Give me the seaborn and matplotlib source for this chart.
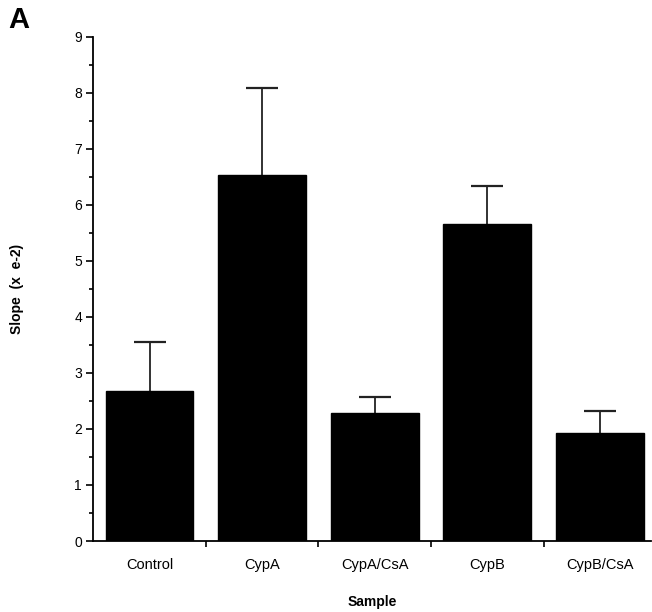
import numpy as np
import pandas as pd
import matplotlib
matplotlib.use("Agg")
import matplotlib.pyplot as plt
import seaborn as sns
from matplotlib.ticker import MultipleLocator

# Data
samples = ["Control", "CypA", "CypA/CsA", "CypB", "CypB/CsA"]
slope = [2.68, 6.54, 2.29, 5.66, 1.93]
err_up = [0.87, 1.55, 0.28, 0.68, 0.39]

df = pd.DataFrame({"Sample": samples, "Slope": slope})

sns.set_style("ticks")
plt.rcParams["font.family"] = ["Liberation Sans", "DejaVu Sans"]
plt.rcParams["text.color"] = "black"
plt.rcParams["axes.labelcolor"] = "black"
plt.rcParams["xtick.color"] = "black"
plt.rcParams["ytick.color"] = "black"
plt.rcParams["axes.edgecolor"] = "black"

fig = plt.figure(figsize=(6.52, 6.12), dpi=100)
ax = fig.add_axes([0.143, 0.116, 0.855, 0.824])

sns.barplot(data=df, x="Sample", y="Slope", color="black", width=0.78,
            edgecolor="black", saturation=1, ax=ax, zorder=2)

# error bars drawn behind the bars, so only the upper half shows
ax.errorbar(np.arange(len(samples)), slope, yerr=err_up,
            fmt="none", ecolor="#222222", elinewidth=1.3, capsize=11.5, capthick=1.6, zorder=1)

ax.set_ylim(0, 9)
ax.set_xlim(-0.5, 4.45)
ax.yaxis.set_major_locator(MultipleLocator(1))
ax.yaxis.set_minor_locator(MultipleLocator(0.5))
ax.set_xticks(np.arange(len(samples)))
ax.set_xticklabels(samples)
ax.set_xticks(np.arange(len(samples) - 1) + 0.5, minor=True)

ax.tick_params(axis="y", which="major", length=5, width=1.2, labelsize=10, direction="out", pad=3)
ax.tick_params(axis="y", which="minor", length=3, width=1.2, direction="out")
ax.tick_params(axis="x", which="major", length=0, labelsize=10.5, pad=12)
ax.tick_params(axis="x", which="minor", length=4, width=1.2, direction="out")

for s in ["top", "right"]:
    ax.spines[s].set_visible(False)
ax.spines["left"].set_linewidth(1.3)
ax.spines["bottom"].set_linewidth(1.3)

ax.set_ylabel("Slope  (x  e-2)", fontsize=10, fontweight="bold", labelpad=36)
ax.set_xlabel("Sample", fontsize=10, fontweight="bold", labelpad=17)

fig.text(0.012, 0.967, "A", fontsize=21, fontweight="bold", va="center", ha="left")

fig.savefig("out.png", dpi=100)
